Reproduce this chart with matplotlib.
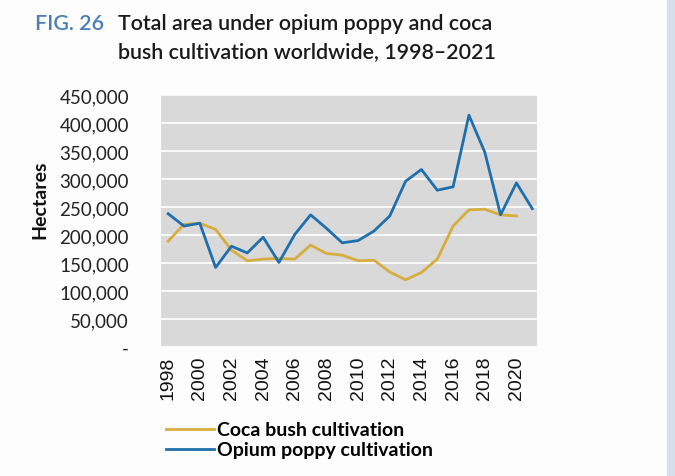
import matplotlib
matplotlib.use("Agg")
import matplotlib.pyplot as plt
from matplotlib.ticker import FuncFormatter
from matplotlib.patches import Rectangle

years = list(range(1998, 2022))
opium = [238000, 216000, 221000, 142000, 180000, 168000, 196000, 151000, 201000, 236000,
         212000, 186000, 190000, 207000, 234000, 296000, 317000, 280000, 286000, 414000,
         348000, 236000, 293000, 247000]
coca_years = list(range(1998, 2021))
coca = [189000, 219000, 221000, 210000, 173000, 154000, 157000, 158000, 157000, 182000,
        167000, 164000, 154000, 155000, 134000, 120000, 133000, 157000, 216000, 245000,
        246000, 236000, 234000]
xtick_years = list(range(1998, 2021, 2))
yticks = list(range(0, 450001, 50000))

W, H = 675, 477
fig = plt.figure(figsize=(W / 100, H / 100), dpi=100)
fig.patch.set_facecolor("#fdfdfd")
fig.patches.append(Rectangle((667 / W, 0), 8 / W, 1, transform=fig.transFigure,
                             facecolor="#d5dfea", edgecolor="none"))

ax = fig.add_axes([161 / W, 1 - 348 / H, (537 - 161) / W, (348 - 96) / H])
ax.set_facecolor("#d9d9d9")
for s in ax.spines.values():
    s.set_visible(False)

ax.plot(coca_years, coca, color="#d6ad3e", lw=2, label="Coca bush cultivation", zorder=3)
ax.plot(years, opium, color="#1f6fad", lw=2, label="Opium poppy cultivation", zorder=3)

ax.set_xlim(1997.55, 2021.3)
ax.set_ylim(0, 450000)
ax.set_yticks(yticks)
ax.yaxis.set_major_formatter(FuncFormatter(lambda v, p: "-" if v == 0 else f"{int(v):,}"))
ax.grid(axis="y", color="white", lw=1.2, zorder=1)
ax.set_axisbelow(True)
ax.tick_params(axis="y", length=0, pad=23, labelsize=13.5, labelcolor="#222222")
for t in ax.get_yticklabels():
    t.set_fontfamily("Lato")
ax.set_xticks(xtick_years)
ax.set_xticklabels([str(y) for y in xtick_years], rotation=90, fontsize=14,
                   fontfamily="Liberation Sans", color="#111111")
ax.tick_params(axis="x", length=0, pad=6)

fig.text(40 / W, 1 - 200 / H, "Hectares", rotation=90, ha="center", va="center",
         fontsize=14, fontweight="bold", fontfamily="Lato", color="#111111")

fig.text(35 / W, 1 - 30 / H, "FIG. 26", fontsize=15.4, fontfamily="Lato", fontweight=600,
         color="#4a7db5", va="baseline", ha="left")
fig.text(118 / W, 1 - 30 / H, "Total area under opium poppy and coca", fontsize=15.4,
         fontfamily="Lato", fontweight=600, color="#1a1a1a", va="baseline", ha="left")
fig.text(118 / W, 1 - 58 / H, "bush cultivation worldwide, 1998\u20132021", fontsize=15.4,
         fontfamily="Lato", fontweight=600, color="#1a1a1a", va="baseline", ha="left")

leg = fig.legend(loc="upper left", bbox_to_anchor=(148 / W, 1 - 405 / H), frameon=False,
                 prop={"family": "Lato", "weight": "bold", "size": 14},
                 handlelength=2.5, handletextpad=0.15, labelspacing=0.15)

fig.savefig("out.png", dpi=100, facecolor=fig.get_facecolor())
